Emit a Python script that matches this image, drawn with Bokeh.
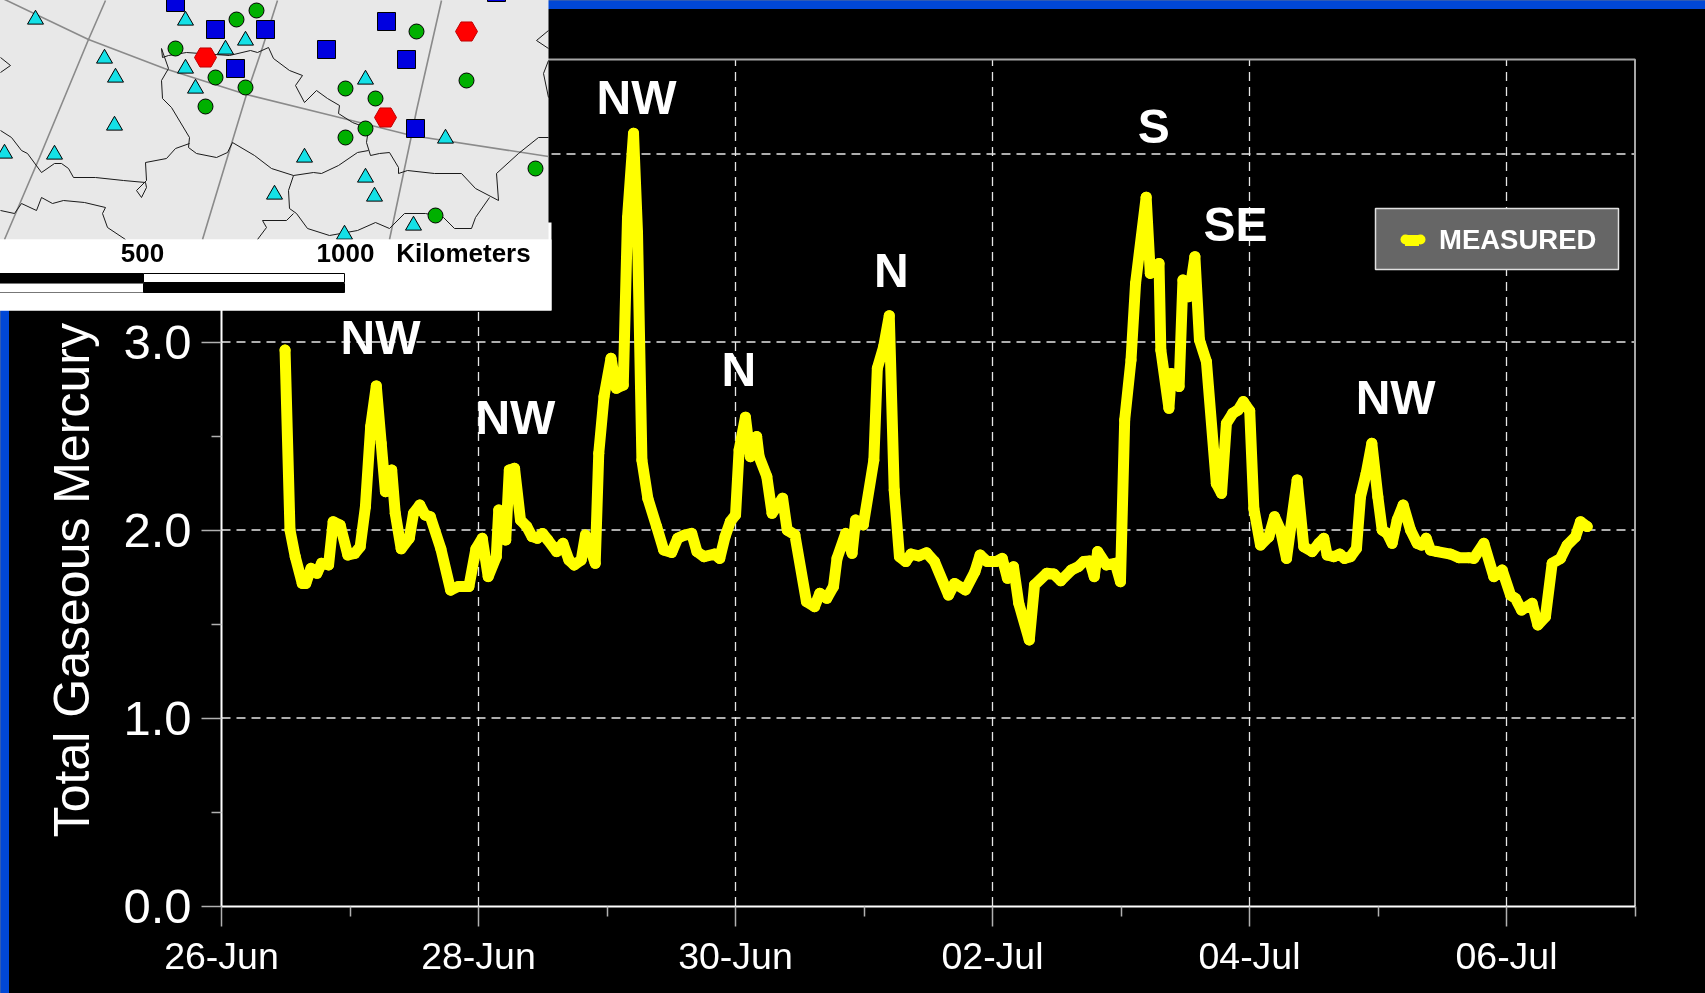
from datetime import datetime, timedelta
from bokeh.plotting import figure
from bokeh.models import Range1d, FixedTicker, DatetimeTickFormatter, NumeralTickFormatter, Legend, LegendItem
from bokeh.core.properties import value
from bokeh.embed import file_html
from bokeh.resources import INLINE

# ---- measured series (hours since 26-Jun 00:00, total gaseous mercury) ----
hours = [11.87,12.79,13.77,15.08,15.74,16.72,17.83,18.69,20.0,20.85,22.16,23.6,24.91,25.9,26.88,27.86,28.91,29.83,30.61,31.79,
 32.45,33.56,35.07,35.86,37.04,38.02,39.0,40.97,42.8,44.24,46.21,47.52,48.7,49.81,51.32,51.78,53.09,53.75,54.73,55.84,
 57.02,58.01,58.99,59.97,60.95,62.59,63.77,64.89,65.87,67.18,67.97,69.8,70.46,71.44,72.75,73.73,75.04,75.83,76.95,77.7,
 78.52,79.63,81.27,82.58,84.09,85.2,86.51,87.82,88.8,90.12,92.08,93.06,94.05,95.03,96.01,96.67,97.85,98.77,99.95,100.41,
 101.85,102.83,104.8,105.65,107.09,109.25,110.76,111.75,113.06,114.3,114.96,116.59,117.77,118.43,119.87,121.84,122.49,123.67,124.72,125.64,
 126.62,127.8,128.78,130.22,131.67,133.17,135.79,136.91,138.94,140.71,141.69,143.0,144.64,145.82,146.8,147.92,148.9,150.87,151.85,154.14,
 155.45,156.76,158.73,160.04,161.02,162.14,163.0,163.64,165.28,166.92,167.9,168.69,169.87,170.72,172.7,173.47,175.1,175.44,176.95,177.41,
 178.85,179.57,180.68,181.8,182.65,183.96,185.8,186.78,187.69,188.88,189.86,190.84,192.04,192.81,194.05,195.61,196.67,197.79,198.91,200.9,
 202.14,203.7,204.95,205.88,206.5,207.75,208.87,209.74,210.86,211.98,212.73,213.79,214.85,215.97,216.78,217.71,218.64,219.58,220.7,222.07,
 223.31,224.12,225.0,225.8,227.05,229.54,231.1,232.96,233.9,235.77,237.63,239.19,240.75,241.68,242.8,244.79,245.85,247.28,248.53,250.09,
 251.33,252.89,253.82,255.07]
tgm = [2.957,2.0,1.858,1.716,1.716,1.796,1.77,1.823,1.814,2.044,2.026,1.867,1.876,1.911,2.124,2.55,2.766,2.461,2.204,2.319,
 2.089,1.9,1.956,2.089,2.133,2.08,2.071,1.9,1.68,1.7,1.7,1.9,1.956,1.752,1.858,2.106,1.947,2.319,2.328,2.053,
 2.018,1.965,1.956,1.982,1.947,1.885,1.929,1.84,1.814,1.84,1.973,1.823,2.408,2.709,2.913,2.754,2.771,3.66,4.11,3.58,
 2.372,2.168,2.018,1.894,1.881,1.956,1.973,1.982,1.885,1.858,1.872,1.849,1.965,2.044,2.08,2.425,2.6,2.39,2.497,2.39,
 2.284,2.089,2.169,2.0,1.974,1.619,1.592,1.663,1.637,1.699,1.849,1.982,1.876,2.053,2.027,2.372,2.86,2.975,3.14,2.213,
 1.858,1.832,1.872,1.862,1.879,1.832,1.654,1.716,1.681,1.778,1.867,1.832,1.832,1.849,1.743,1.805,1.61,1.415,1.708,1.77,
 1.766,1.73,1.787,1.805,1.832,1.835,1.752,1.885,1.814,1.823,1.725,2.585,2.904,3.312,3.77,3.365,3.418,2.957,2.647,2.833,
 2.763,3.33,3.241,3.454,3.011,2.895,2.248,2.195,2.567,2.621,2.638,2.683,2.634,2.115,1.92,1.964,2.071,2.0,1.849,2.266,
 1.911,1.885,1.929,1.956,1.867,1.858,1.872,1.849,1.858,1.902,2.177,2.301,2.461,2.177,2.0,1.982,1.929,2.053,2.133,2.0,
 1.929,1.92,1.956,1.893,1.885,1.872,1.853,1.853,1.849,1.929,1.752,1.787,1.654,1.636,1.574,1.61,1.495,1.539,1.823,1.849,
 1.92,1.964,2.044,2.018]

series_name = "MEASURED"
y_title = "Total Gaseous Mercury"
y_major = [0.0, 1.0, 2.0, 3.0, 4.0]
y_minor = [0.5, 1.5, 2.5, 3.5, 4.5]
x_major_days = [0, 2, 4, 6, 8, 10]
x_minor_days = [1, 3, 5, 7, 9, 11]

# wind-sector labels: text, hour, level
wind_text = ["NW", "NW", "NW", "N", "N", "S", "SE", "NW"]
wind_hour = [29.7, 54.9, 77.5, 96.6, 125.1, 174.1, 189.4, 219.3]
wind_level = [3.024, 2.598, 4.30, 2.854, 3.38, 4.146, 3.625, 2.705]

# ---- inset map, in inset-image coordinates ----
tri_x = [35,185,245,225,104,115,185,195,114,4,54,304,274,365,374,365,445,413,344]
tri_y = [19,20,40,49,58,77,68,88,125,153,154,157,194,177,196,79,138,225,234]
cir_x = [256,236,416,175,215,245,205,345,375,466,365,345,535,435]
cir_y = [10,19,31,48,77,87,106,88,98,80,128,137,168,215]
sqr_x = [175,215,265,386,326,406,235,415,496]
sqr_y = [2,29,29,21,49,59,68,128,-8]
hex_x = [466,205,385]
hex_y = [31,57,117]

grat_x = [[0,88,164,246,339,411,548],[105,88,39,4],[277,262,246,232,202],[441,416,411,389]]
grat_y = [[-3,39,68,94,117,135,156],[0,39,157,239],[0,47,94,140,239],[0,110,135,239]]
bord_x = [
 [161,162,168,186,200,229,250,257,268,273,289,302,295,304,316,327,339,338,352,368,366,370,379,389,398,398,407,434,461,475,498,496,518,538,548],
 [161,168,161,162,171,189,188,196,216,227,232,254,271,293,313,321,338,357,368],
 [189,175,166,145,146,136,141,146,145,123,95,73,68,61,54,41,27,21,11,0],
 [293,288,289,296,307,329,357,375,389,404,425,443,454,471,475,489],
 [41,36,21,14,0],
 [41,52,63,84,105,102,107,125],
 [293,286,262,266,257],
 [548,536,548],
 [548,543,548],
 [0,10,0],
]
bord_y = [
 [48,57,55,52,53,55,50,52,47,58,70,75,85,102,90,98,105,113,122,128,142,155,153,152,167,173,170,173,173,188,200,173,153,137,137],
 [48,68,80,98,107,137,147,153,157,152,142,155,168,175,172,173,165,152,150],
 [143,148,158,162,180,190,197,187,182,180,177,177,168,163,163,172,153,150,137,130],
 [175,190,208,213,228,235,230,222,228,213,213,217,228,228,217,197],
 [197,210,203,213,210],
 [197,203,200,202,207,213,227,239],
 [213,220,220,227,239],
 [30,40,48],
 [60,73,97],
 [57,65,72],
]
scale_text = ["500", "1000", "Kilometers"]
scale_x = [142, 345, 463]
scale_y = [252, 252, 252]

# ---- figure ----
PX_DAY, PX_UNIT = 128.5, 188.0
AX_X, AX_Y, W, H = 221, 905.5, 1705, 993
t0 = datetime(2001, 6, 26)
ms = lambda d: (t0 + timedelta(days=d) - datetime(1970, 1, 1)).total_seconds() * 1000

p = figure(width=W, height=H, x_axis_type="datetime", output_backend="svg", toolbar_location=None,
           x_range=Range1d(ms(-AX_X / PX_DAY), ms((W - AX_X) / PX_DAY)),
           y_range=Range1d((AX_Y - H) / PX_UNIT, AX_Y / PX_UNIT),
           background_fill_color="black", border_fill_color="black",
           min_border=0, min_border_left=0, min_border_right=0, min_border_top=0, min_border_bottom=0)
p.outline_line_color = None
p.styles = {"position": "fixed", "left": "0px", "top": "0px"}
p.extra_x_ranges["map"] = Range1d(0, W)
p.extra_y_ranges["map"] = Range1d(H, 0)
M = dict(x_range_name="map", y_range_name="map", level="overlay")
FONT = value("Liberation Sans")
X0, X1, Y1 = ms(0), ms(11), 4.503

xax = p.xaxis[0]
xax.fixed_location = 0
xax.bounds = (X0, X1)
xax.ticker = FixedTicker(ticks=[ms(d) for d in x_major_days], minor_ticks=[ms(d) for d in x_minor_days])
xax.formatter = DatetimeTickFormatter(days="%d-%b", months="%d-%b", hours="%d-%b", years="%d-%b")
yax = p.yaxis[0]
yax.fixed_location = X0
yax.bounds = (0, Y1)
yax.ticker = FixedTicker(ticks=y_major, minor_ticks=y_minor)
yax.formatter = NumeralTickFormatter(format="0.0")
for ax, size in ((xax, "37.5px"), (yax, "49px")):
    ax.axis_line_color = "white"
    ax.axis_line_width = 2
    ax.major_tick_line_color = "#b0b0b0"
    ax.minor_tick_line_color = "#b0b0b0"
    ax.major_tick_line_width = 1.5
    ax.minor_tick_line_width = 1.5
    ax.major_tick_in = 0
    ax.minor_tick_in = 0
    ax.major_tick_out = 20
    ax.minor_tick_out = 10
    ax.major_label_text_color = "white"
    ax.major_label_text_font = "Liberation Sans"
    ax.major_label_text_font_size = size
xax.major_label_standoff = 9
yax.major_label_standoff = 10

# dashed grid that stops at the axes box
p.grid.visible = False
grid_days = [ms(d) for d in x_major_days[1:]]
p.segment(x0=grid_days, x1=grid_days, y0=[0] * len(grid_days), y1=[Y1] * len(grid_days),
          line_color="#e6e6e6", line_width=1.3, line_dash="9 6")
p.segment(x0=[X0] * 4, x1=[X1] * 4, y0=y_major[1:], y1=y_major[1:],
          line_color="#e6e6e6", line_width=1.3, line_dash="9 6")

# top and right frame lines
p.line([X0, X1, X1], [Y1, Y1, 0], line_color="#a6a6a6", line_width=2)

times = [t0 + timedelta(hours=h) for h in hours]
main = p.line(times, tgm, line_color="#ffff00", line_width=11, line_join="round", line_cap="round")
p.scatter(times, tgm, marker="circle", size=11, fill_color="#ffff00", line_color=None)

p.text([t0 + timedelta(hours=h) for h in wind_hour], wind_level, text=wind_text, text_color="white",
       text_font=FONT, text_font_style="bold", text_font_size="48px", text_align="center", text_baseline="middle")

p.text([t0 + timedelta(hours=-27.85)], [0.366], text=[y_title], angle=1.5708, text_color="white",
       text_font=FONT, text_font_size="50px", text_align="left", text_baseline="alphabetic")

# slide bars
BLUE = "#0047d6"
p.quad(left=[0, 0], right=[W, 8], top=[0, 0], bottom=[8, H], color=BLUE, x_range_name="map", y_range_name="map")

# legend box
p.quad(left=[1375], right=[1618], top=[208], bottom=[269], fill_color="#666666", line_color="#e0e0e0", line_width=1.5,
       x_range_name="map", y_range_name="map")
leg = Legend(items=[LegendItem(label=series_name, renderers=[main])], location=(1393, H - 269 + 1), margin=0, padding=12,
             background_fill_alpha=0, border_line_alpha=0, glyph_width=14, glyph_height=30, label_standoff=20,
             label_text_color="white", label_text_font="Liberation Sans", label_text_font_style="bold",
             label_text_font_size="27.5px")
p.add_layout(leg, "center")
# rounded ends of the legend key
p.scatter([1405, 1420], [239, 239], marker="circle", size=10, fill_color="#ffff00", line_color=None,
          x_range_name="map", y_range_name="map")

# inset map
p.quad(left=[-5], right=[551], top=[222], bottom=[310], fill_color="white", line_color=None, **M)
p.quad(left=[-5], right=[548], top=[-5], bottom=[239], fill_color="#e8e8e8", line_color=None, **M)
p.multi_line(grat_x, grat_y, line_color="#8a8a8a", line_width=1.6, **M)
p.multi_line(bord_x, bord_y, line_color="#1a1a1a", line_width=1, **M)
p.scatter(tri_x, tri_y, marker="triangle", size=16, fill_color="#14e0e6", line_color="black", **M)
p.scatter(cir_x, cir_y, marker="circle", size=15, fill_color="#00b000", line_color="black", **M)
p.scatter(sqr_x, sqr_y, marker="square", size=18, fill_color="#0000e0", line_color="black", **M)
p.scatter(hex_x, hex_y, marker="hex", size=22, fill_color="#ff0000", line_color="#c00000", **M)
p.quad(left=[-5], right=[551], top=[239], bottom=[310], fill_color="white", line_color=None, **M)
p.text(scale_x, scale_y, text=scale_text, text_color="black", text_font=FONT, text_font_style="bold",
       text_font_size="26px", text_align="center", text_baseline="middle", **M)
p.quad(left=[-5, 143, -5, 143], right=[143, 344, 143, 344], top=[273, 273, 283, 283], bottom=[282, 282, 292, 292],
       fill_color=["black", "white", "white", "black"], line_color=["black", "black", "#777777", "black"], **M)

open("out.html", "w").write(file_html(p, INLINE))
